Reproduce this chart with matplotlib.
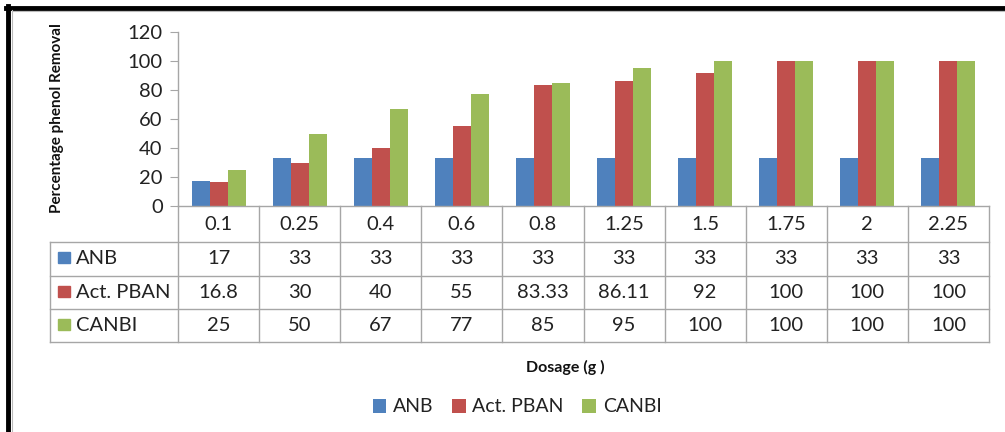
import numpy as np
import matplotlib.pyplot as plt
from matplotlib.lines import Line2D
from matplotlib.patches import Rectangle

plt.rcParams['font.family'] = ['Lato', 'DejaVu Sans']

dosages = ['0.1', '0.25', '0.4', '0.6', '0.8', '1.25', '1.5', '1.75', '2', '2.25']
anb = [17, 33, 33, 33, 33, 33, 33, 33, 33, 33]
pban = [16.8, 30, 40, 55, 83.33, 86.11, 92, 100, 100, 100]
canbi = [25, 50, 67, 77, 85, 95, 100, 100, 100, 100]
labels = ['ANB', 'Act. PBAN', 'CANBI']
colors = ['#4F81BD', '#C0504D', '#9BBB59']

W, H = 1005, 432
fig = plt.figure(figsize=(W / 100, H / 100), dpi=100)
fig.patch.set_facecolor('white')


def fx(px):
    return px / W


def fy(py):
    return 1 - py / H


# plot area in pixels: x 178..989, y 32..206
ax = fig.add_axes([fx(178), fy(206), fx(989) - fx(178), fy(32) - fy(206)])
x = np.arange(len(dosages))
w = 1 / 4.5
series = [anb, pban, canbi]
for i, (vals, c, lab) in enumerate(zip(series, colors, labels)):
    ax.bar(x + (i - 1) * w, vals, width=w, color=c, label=lab, zorder=2)

ax.set_xlim(-0.5, len(dosages) - 0.5)
ax.set_ylim(0, 120)
ax.set_yticks(range(0, 121, 20))
ax.set_xticks([])
grid_c = '#A6A6A6'
for s in ['top', 'right']:
    ax.spines[s].set_visible(False)
for s in ['left', 'bottom']:
    ax.spines[s].set_color(grid_c)
    ax.spines[s].set_linewidth(1.0)
txt_c = '#222222'
fs = 14.5
ax.tick_params(axis='y', length=6, color=grid_c, labelsize=fs, labelcolor=txt_c, pad=5)
ax.set_facecolor('none')

# data table under the axis
trans = ax.get_xaxis_transform()
ph = 174.0
row_edges = [0, -36 / ph, -70 / ph, -103 / ph, -136 / ph]
left_x = -0.5 - (178 - 50) * len(dosages) / (989 - 178)
right_x = len(dosages) - 0.5

for b in np.arange(-0.5, len(dosages) + 0.5, 1):
    ax.add_line(Line2D([b, b], [0, row_edges[-1]], transform=trans, color=grid_c,
                       lw=1.0, clip_on=False))
ax.add_line(Line2D([left_x, left_x], [row_edges[1], row_edges[-1]], transform=trans,
                   color=grid_c, lw=1.0, clip_on=False))
for r in row_edges[1:]:
    ax.add_line(Line2D([left_x, right_x], [r, r], transform=trans, color=grid_c,
                       lw=1.0, clip_on=False))

hy = (row_edges[0] + row_edges[1]) / 2
for xi, d in zip(x, dosages):
    ax.text(xi, hy, d, transform=trans, ha='center', va='center', fontsize=fs,
            color=txt_c, clip_on=False)

px_unit = len(dosages) / (989 - 178)
for ri, (vals, c, lab) in enumerate(zip(series, colors, labels)):
    ry = (row_edges[ri + 1] + row_edges[ri + 2]) / 2
    for xi, v in zip(x, vals):
        ax.text(xi, ry, f'{v:g}', transform=trans, ha='center', va='center',
                fontsize=fs, color=txt_c, clip_on=False)
    sq_h = 11 / ph
    ax.add_patch(Rectangle((left_x + 8 * px_unit, ry - sq_h / 2 + 1.5 / ph), 12 * px_unit, sq_h,
                           transform=trans, color=c, clip_on=False))
    ax.text(left_x + 26 * px_unit, ry, lab, transform=trans, ha='left', va='center',
            fontsize=fs, color=txt_c, clip_on=False)

fig.text(fx(57), fy(118), 'Percentage phenol Removal', rotation=90, ha='center',
         va='center', fontsize=11, fontweight='bold', color='#111111')
fig.text(fx(565), fy(367), 'Dosage (g )', ha='center', va='center', fontsize=11.5,
         fontweight='bold', color='#111111')

fig.legend(loc='center', bbox_to_anchor=(fx(517), fy(407)), ncol=3, frameon=False,
           fontsize=14, handlelength=0.7, handleheight=0.7, handletextpad=0.35,
           columnspacing=0.95, labelcolor=txt_c)

# outer frame of the chart area
fig.add_artist(Line2D([fx(8), fx(8)], [0, fy(6)], color='black', lw=3.5))
fig.add_artist(Line2D([fx(6), 1], [fy(7.5), fy(7.5)], color='black', lw=3.5))
fig.add_artist(Line2D([fx(12), fx(12)], [0, fy(10)], color='#BBBBBB', lw=0.8))
fig.add_artist(Line2D([fx(12), 1], [fy(10.5), fy(10.5)], color='#BBBBBB', lw=0.8))

fig.savefig('out.png', dpi=100)
